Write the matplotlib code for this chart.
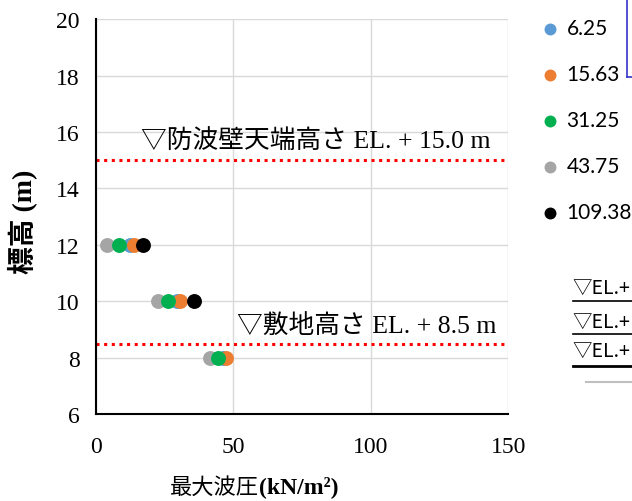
import matplotlib
matplotlib.use("Agg")
import matplotlib.pyplot as plt
import numpy as np

# series: wave period label -> max wave pressure at each elevation
elev = [12, 10, 8]
labels = ["6.25", "15.63", "31.25", "43.75", "109.38"]
p_625 = [12.4, 29.4, 46.3]
p_1563 = [13.9, 30.6, 47.3]
p_3125 = [8.5, 26.3, 44.3]
p_4375 = [3.9, 22.7, 41.5]
p_10938 = [17.2, 35.8, np.nan]
colors = ["#5B9BD5", "#ED7D31", "#00B050", "#A5A5A5", "#000000"]

walls = [15.0, 8.5]
wall_texts = ["▽防波壁天端高さ EL. + 15.0 m", "▽敷地高さ EL. + 8.5 m"]

serif_cjk = ["Liberation Serif", "Noto Sans CJK JP"]

fig = plt.figure(figsize=(6.32, 5.02), dpi=100)
ax = fig.add_axes([0.152, 0.173, 0.652, 0.787])

series = [p_625, p_1563, p_3125, p_4375, p_10938]
zorders = [3, 4, 5, 3.5, 6]
for vals, lab, c, z in zip(series, labels, colors, zorders):
    ax.scatter(vals, elev, s=115, color=c, label=lab, zorder=z, linewidths=0)

for w in walls:
    ax.plot([0, 150], [w, w], color="red", linestyle=(0, (1, 1.5)), linewidth=2.2, zorder=2)

ax.text(16.4, 15.71, wall_texts[0], family=serif_cjk, fontsize=18.5, va="center")
ax.text(51.3, 9.11, wall_texts[1], family=serif_cjk, fontsize=18.5, va="center")

ax.set_xlim(0, 150)
ax.set_ylim(6, 20)
ax.set_xticks([0, 50, 100, 150])
ax.set_yticks(range(6, 21, 2))
ax.grid(True, color="#D9D9D9", linewidth=1)
ax.set_axisbelow(True)
for s in ["top", "right"]:
    ax.spines[s].set_visible(False)
ax.spines["left"].set_linewidth(1.5)
ax.spines["bottom"].set_linewidth(1.5)
ax.tick_params(axis="x", length=0, labelsize=17, pad=16)
ax.tick_params(axis="y", length=0, labelsize=17, pad=12)
for t in ax.get_xticklabels() + ax.get_yticklabels():
    t.set_family("Liberation Serif")

ax.set_ylabel("標高 (m)", family=["Liberation Serif", "Noto Sans CJK JP"], fontsize=20,
              fontweight="bold")
ax.yaxis.set_label_coords(-0.143, 0.49)

fig.text(0.410, 0.030, "最大波圧", family="Noto Sans CJK JP", fontsize=16, ha="right", va="center")
fig.text(0.410, 0.030, "(kN/m²)", family="Liberation Serif", fontsize=17, fontweight="bold",
         ha="left", va="center")

fig.legend(loc="upper left", bbox_to_anchor=(0.832, 0.987), frameon=False,
           labelspacing=1.25, handletextpad=0.25, handlelength=1.1, borderaxespad=0.2,
           prop={"family": "Lato", "size": 15}, markerscale=0.8)

# pieces of the neighbouring chart cut by the frame
fig.add_artist(plt.Line2D([0.992, 0.992], [1.0, 0.845], color="#3333CC", linewidth=1.2))
fig.add_artist(plt.Line2D([0.992, 1.0], [0.845, 0.845], color="#3333CC", linewidth=1.2))
for yc, yl, lw in [(0.426, 0.398, 1.2), (0.357, 0.333, 1.2), (0.299, 0.269, 2.0)]:
    fig.text(0.906, yc, "▽EL.+", family=["Noto Sans CJK JP"], fontsize=14, va="center")
    fig.add_artist(plt.Line2D([0.906, 1.0], [yl, yl], color="black", linewidth=lw))
fig.add_artist(plt.Line2D([0.928, 1.0], [0.237, 0.237], color="#BFBFBF", linewidth=1.5))

fig.savefig("out.png", dpi=100)
